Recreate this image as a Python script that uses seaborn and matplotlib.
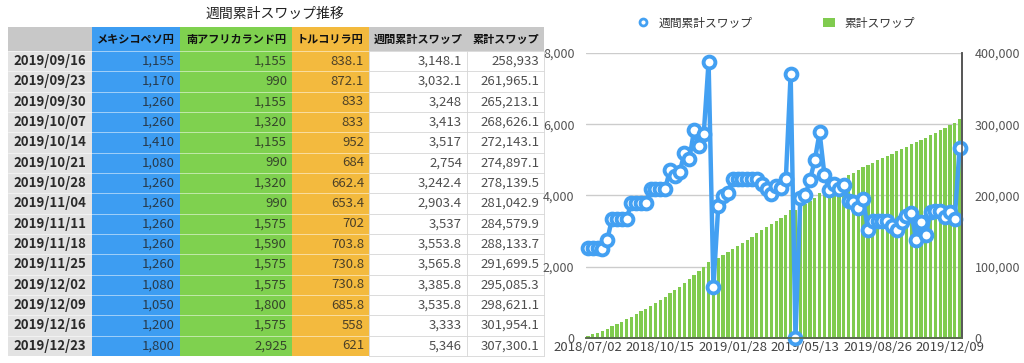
import numpy as np
import pandas as pd
import seaborn as sns
import matplotlib.pyplot as plt
from matplotlib.patches import Rectangle, Patch
from matplotlib.lines import Line2D

sns.set_theme(style="white")
plt.rcParams["font.family"] = ["Noto Sans CJK JP", "DejaVu Sans"]

# ---- data ----
start_week = "2018-07-02"
n_weeks = 78
weekly_swap = [
    2520, 2520, 2520, 2500, 2750, 3350, 3350, 3350, 3350, 3780,
    3780, 3780, 3780, 4190, 4190, 4190, 4190, 4720, 4560, 4660,
    5190, 5020, 5830, 5390, 5740, 7760, 1420, 3700, 3990, 4080,
    4450, 4450, 4450, 4450, 4450, 4450, 4320, 4170, 4030, 4270,
    4220, 4450, 7420, 0, 3940, 4000, 4430, 4990, 5770, 4580,
    4150, 4320, 4190, 4300, 3850, 3820, 3660, 3910, 3045, 3275,
    3275, 3275, 3275, 3148.1, 3032.1, 3248, 3413, 3517, 2754, 3242.4,
    2903.4, 3537, 3553.8, 3565.8, 3385.8, 3535.8, 3333, 5346,
]
cumulative_swap = [
    2520, 5040, 7560, 10060, 12810, 16160, 19510, 22860, 26210, 29990,
    33770, 37550, 41330, 45520, 49710, 53900, 58090, 62810, 67370, 72030,
    77220, 82240, 88070, 93460, 99200, 106960, 108380, 112080, 116070, 120150,
    124600, 129050, 133500, 137950, 142400, 146850, 151170, 155340, 159370, 163640,
    167860, 172310, 179730, 179730, 183670, 187670, 192100, 197090, 202860, 207440,
    211590, 215910, 220100, 224400, 228250, 232070, 235730, 239640, 242685, 245960,
    249235, 252510, 255785, 258933, 261965.1, 265213.1, 268626.1, 272143.1, 274897.1, 278139.5,
    281042.9, 284579.9, 288133.7, 291699.5, 295085.3, 298621.1, 301954.1, 307300.1,
]
xtick_labels = ["2018/07/02", "2018/10/15", "2019/01/28", "2019/05/13", "2019/08/26", "2019/12/09"]

# table on the left
table_title = "週間累計スワップ推移"
table_header = ["", "メキシコペソ円", "南アフリカランド円", "トルコリラ円", "週間累計スワップ", "累計スワップ"]
table_dates = ["2019/09/16", "2019/09/23", "2019/09/30", "2019/10/07", "2019/10/14",
               "2019/10/21", "2019/10/28", "2019/11/04", "2019/11/11", "2019/11/18",
               "2019/11/25", "2019/12/02", "2019/12/09", "2019/12/16", "2019/12/23"]
mxn_yen = ["1,155", "1,170", "1,260", "1,260", "1,410", "1,080", "1,260", "1,260",
           "1,260", "1,260", "1,260", "1,080", "1,050", "1,200", "1,800"]
zar_yen = ["1,155", "990", "1,155", "1,320", "1,155", "990", "1,320", "990",
           "1,575", "1,590", "1,575", "1,575", "1,800", "1,575", "2,925"]
try_yen = ["838.1", "872.1", "833", "833", "952", "684", "662.4", "653.4",
           "702", "703.8", "730.8", "730.8", "685.8", "558", "621"]
weekly_col = ["3,148.1", "3,032.1", "3,248", "3,413", "3,517", "2,754", "3,242.4", "2,903.4",
              "3,537", "3,553.8", "3,565.8", "3,385.8", "3,535.8", "3,333", "5,346"]
cumul_col = ["258,933", "261,965.1", "265,213.1", "268,626.1", "272,143.1", "274,897.1",
             "278,139.5", "281,042.9", "284,579.9", "288,133.7", "291,699.5", "295,085.3",
             "298,621.1", "301,954.1", "307,300.1"]

BLUE = "#3d9df2"
GREEN = "#7fd14f"
ORANGE = "#f3ba3e"
LINE_BLUE = "#43a0f2"
BAR_GREEN = "#80cb4f"

weeks = pd.date_range(start_week, periods=n_weeks, freq="7D").strftime("%Y/%m/%d")
df = pd.DataFrame({"week": weeks, "weekly": weekly_swap, "cumulative": cumulative_swap})

W, H = 1024, 363
fig = plt.figure(figsize=(W / 100, H / 100), dpi=100)

# ---- table (pixel coordinates) ----
tab = fig.add_axes([0, 0, 1, 1])
tab.set_xlim(0, W)
tab.set_ylim(H, 0)
tab.axis("off")

col_edges = [8, 92, 180, 292, 369, 467, 544]
head_top, head_bot = 27, 51
row_h = 20.33
col_bg = ["#e3e3e3", BLUE, GREEN, ORANGE, "white", "white"]
head_bg = ["#c8c8c8", BLUE, GREEN, ORANGE, "#c8c8c8", "#c8c8c8"]
columns = [table_dates, mxn_yen, zar_yen, try_yen, weekly_col, cumul_col]

tab.text((208 + 342) / 2, 14, table_title, ha="center", va="center", fontsize=10, color="#222")

for c in range(6):
    x0, x1 = col_edges[c], col_edges[c + 1]
    tab.add_patch(Rectangle((x0, head_top), x1 - x0, head_bot - head_top,
                            facecolor=head_bg[c], edgecolor="none"))
    if table_header[c]:
        tab.text((x0 + x1) / 2, (head_top + head_bot) / 2, table_header[c], ha="center",
                 va="center", fontsize=8, fontweight="bold", color="#111")
    for r, val in enumerate(columns[c]):
        y0 = head_bot + r * row_h
        tab.add_patch(Rectangle((x0, y0), x1 - x0, row_h, facecolor=col_bg[c],
                                edgecolor="none"))
        if c == 0:
            tab.text(x1 - 6, y0 + row_h / 2, val, ha="right", va="center", fontsize=9.5,
                     fontweight="bold", color="#2a2a2a")
        else:
            tab.text(x1 - 5, y0 + row_h / 2, val, ha="right", va="center", fontsize=9.5,
                     color="#222", alpha=0.8)

# row lines
for r in range(len(table_dates) + 1):
    y = head_bot + r * row_h
    tab.plot([col_edges[0], col_edges[4]], [y, y], color="white", lw=0.6, alpha=0.6)
    tab.plot([col_edges[4], col_edges[6]], [y, y], color="#d6d6d6", lw=0.6)
for x in col_edges[4:]:
    tab.plot([x, x], [head_bot, head_bot + len(table_dates) * row_h], color="#d6d6d6", lw=0.6)

# ---- chart ----
ax = fig.add_axes([585.5 / W, (H - 338) / H, 376.5 / W, 285 / H])
sns.barplot(data=df, x="week", y="cumulative", ax=ax, color=BAR_GREEN, width=0.68,
            saturation=1, edgecolor="none")
ax.set_ylim(0, 400000)
ax.set_axisbelow(True)
ax.yaxis.grid(True, color="#cccccc", lw=1)

ax2 = ax.twinx()
sns.lineplot(x=np.arange(n_weeks), y=df["weekly"].values, ax=ax2, color=LINE_BLUE, lw=3.2,
             marker="o", markersize=8.5, markerfacecolor="white", markeredgecolor=LINE_BLUE,
             markeredgewidth=2.8)
ax2.set_ylim(0, 8000)
ax2.set_xlim(-0.5, n_weeks - 0.5)
for line in ax2.lines:
    line.set_clip_on(False)

# swap sides: bars' axis on the right, line's axis on the left
ax.yaxis.tick_right()
ax2.yaxis.tick_left()
ax.set_yticks(np.arange(0, 400001, 100000))
ax.set_yticklabels([f"{v:,}" for v in range(0, 400001, 100000)])
ax2.set_yticks(np.arange(0, 8001, 2000))
ax2.set_yticklabels([f"{v:,}" for v in range(0, 8001, 2000)])

ax.set_xticks(np.arange(0, n_weeks, 15))
ax.set_xticklabels(xtick_labels)
for a in (ax, ax2):
    a.set_xlabel("")
    a.set_ylabel("")
    for s in ("top", "left"):
        a.spines[s].set_visible(False)
    a.spines["right"].set_color("#555555")
    a.spines["bottom"].set_color("#5a6a50")
    a.spines["right"].set_linewidth(1.2)
    a.spines["bottom"].set_linewidth(1.2)
ax.tick_params(axis="x", length=0, pad=2, labelsize=9.5, labelcolor="#444")
ax.tick_params(axis="y", length=0, pad=9, labelsize=9, labelcolor="#555")
ax2.tick_params(axis="y", length=0, pad=8, labelsize=9, labelcolor="#555")

handles = [
    Line2D([], [], ls="none", marker="o", markersize=5, markerfacecolor="white",
           markeredgecolor=LINE_BLUE, markeredgewidth=2),
    Patch(facecolor=BAR_GREEN, edgecolor="none"),
]
fig.legend(handles, ["週間累計スワップ", "累計スワップ"], loc="center",
           bbox_to_anchor=(776 / W, 1 - 23 / H), ncol=2, frameon=False, fontsize=8.5,
           columnspacing=6, handlelength=1.0, handleheight=0.9, handletextpad=0.8,
           labelcolor="#333")

fig.savefig("out.png", dpi=100)
